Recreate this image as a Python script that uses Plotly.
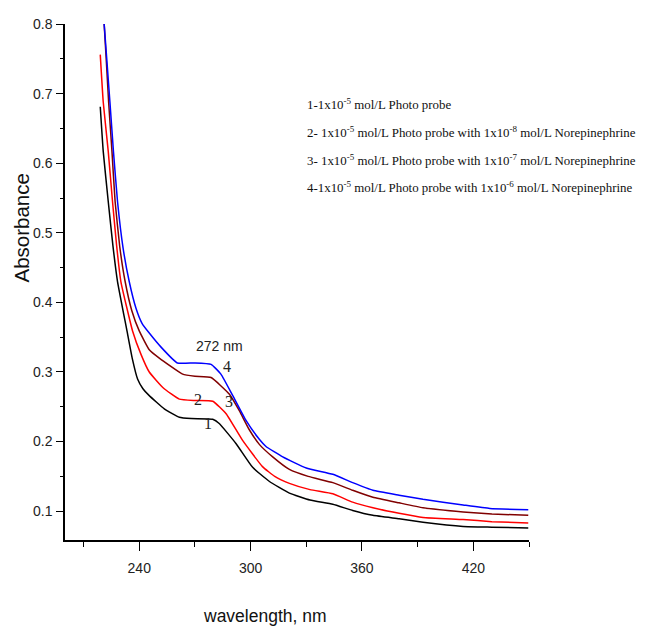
import plotly.graph_objects as go

# ---- data ----
wl_1 = [219, 220.6, 223.3, 225.8, 228.3, 233.4, 236.2, 239.1, 242, 245.4, 253.5, 261.6, 268, 279.6, 283.1,
        292.2, 301.1, 310, 320.9, 332, 344.3, 355, 365.9, 380, 392.9, 414.5, 430, 449.6]
abs_1 = [0.681, 0.617, 0.545, 0.482, 0.430, 0.359, 0.320, 0.290, 0.276, 0.266, 0.247, 0.235, 0.233, 0.232, 0.226,
         0.197, 0.163, 0.143, 0.126, 0.116, 0.110, 0.101, 0.094, 0.089, 0.084, 0.078, 0.077, 0.076]

wl_2 = [219, 220.6, 223.3, 225.6, 227.8, 230.1, 236.4, 241, 245.4, 253, 261.6, 270, 279.6, 286.8, 295.6,
        306.4, 313, 320.9, 332, 344.3, 355, 365.9, 380, 392.9, 414.5, 430, 449.6]
abs_2 = [0.756, 0.688, 0.617, 0.545, 0.482, 0.430, 0.359, 0.325, 0.300, 0.277, 0.261, 0.259, 0.258, 0.240, 0.202,
         0.164, 0.150, 0.140, 0.131, 0.125, 0.113, 0.105, 0.097, 0.091, 0.088, 0.085, 0.083]

wl_3 = [219, 221.1, 223.5, 225.3, 227, 229.5, 232.4, 236, 240, 245.4, 250.8, 263.4, 270, 278.7, 288.6, 294,
        299.3, 304.7, 311.9, 320.9, 331, 344.3, 355, 365.9, 380, 392.9, 414.5, 430, 449.6]
abs_3 = [0.86, 0.80, 0.688, 0.617, 0.545, 0.480, 0.430, 0.388, 0.359, 0.332, 0.320, 0.297, 0.294, 0.292, 0.268, 0.244,
         0.217, 0.196, 0.178, 0.160, 0.150, 0.141, 0.130, 0.120, 0.112, 0.105, 0.099, 0.096, 0.094]

wl_4 = [219, 221.1, 224.2, 226.1, 228.3, 231.3, 234.6, 238.2, 241.5, 245.4, 252, 260.5, 270, 278.7, 284, 290.4,
        297.6, 304.8, 308.3, 317.3, 330, 344.3, 355, 365.9, 380, 392.9, 414.5, 428.9, 449.6]
abs_4 = [0.87, 0.80, 0.688, 0.617, 0.545, 0.478, 0.430, 0.392, 0.370, 0.356, 0.335, 0.313, 0.313, 0.311, 0.297, 0.266,
         0.230, 0.203, 0.193, 0.178, 0.162, 0.153, 0.141, 0.130, 0.123, 0.117, 0.109, 0.104, 0.102]

series_names = ["1", "2", "3", "4"]
series_colors = ["#000000", "#ff0000", "#800000", "#0000ff"]

legend_lines = [
    "1-1x10<sup>-5</sup> mol/L Photo probe",
    "2- 1x10<sup>-5</sup> mol/L Photo probe with 1x10<sup>-8</sup> mol/L Norepinephrine",
    "3- 1x10<sup>-5</sup> mol/L Photo probe with 1x10<sup>-7</sup> mol/L Norepinephrine",
    "4-1x10<sup>-5</sup> mol/L Photo probe with 1x10<sup>-6</sup> mol/L Norepinephrine",
]

# curve labels (number, wavelength, absorbance)
curve_label_text = ["4", "2", "3", "1"]
curve_label_x = [287.2, 271.8, 288.3, 277.2]
curve_label_y = [0.3076, 0.261, 0.258, 0.226]
peak_text = "272 nm"
peak_x = 283.2
peak_y = 0.337

x_ticks = [240, 300, 360, 420]
y_ticks = [0.1, 0.2, 0.3, 0.4, 0.5, 0.6, 0.7, 0.8]

# page body has an 8px margin: figure is shifted, so compensate
OFF = 8
W, H = 652 - OFF, 627 - OFF
L, T, R, B = 65 - OFF, 24 - OFF, 123, 87
PW, PH = W - L - R, H - T - B


def px_x(px):
    return (px - OFF - L) / PW


def px_y(py):
    return 1 - (py - OFF - T) / PH


# ---- figure ----
fig = go.Figure()
for wl, ab, name, col in zip([wl_1, wl_2, wl_3, wl_4], [abs_1, abs_2, abs_3, abs_4],
                             series_names, series_colors):
    fig.add_trace(go.Scatter(x=wl, y=ab, mode="lines", name=name,
                             line=dict(color=col, width=1.5, shape="spline", smoothing=0.4)))

annotations = []
for t, x, y in zip(curve_label_text, curve_label_x, curve_label_y):
    annotations.append(dict(x=x, y=y, xref="x", yref="y", text=t, showarrow=False,
                            font=dict(family="Liberation Serif", size=16, color="#222222")))
annotations.append(dict(x=peak_x, y=peak_y, xref="x", yref="y", text=peak_text, showarrow=False,
                        font=dict(family="Liberation Sans", size=14, color="#222222")))

legend_y_px = [104, 132, 160, 187]
for txt, ypx in zip(legend_lines, legend_y_px):
    annotations.append(dict(x=px_x(305), y=px_y(ypx), xref="paper", yref="paper",
                            text=txt, showarrow=False, xanchor="left", yanchor="middle",
                            font=dict(family="Liberation Serif", size=12.9, color="#111111")))

annotations.append(dict(x=px_x(264.5), y=px_y(616), xref="paper", yref="paper",
                        text="wavelength, nm", showarrow=False, xanchor="center", yanchor="middle",
                        font=dict(family="Liberation Sans", size=17.5, color="#111111")))
annotations.append(dict(x=px_x(20.5), y=px_y(228), xref="paper", yref="paper",
                        text="Absorbance", showarrow=False, textangle=-90, xanchor="center",
                        yanchor="middle",
                        font=dict(family="Liberation Sans", size=20.5, color="#111111")))

fig.update_layout(
    width=W, height=H,
    margin=dict(l=L, r=R, t=T, b=B, autoexpand=False),
    paper_bgcolor="white", plot_bgcolor="white",
    showlegend=False,
    annotations=annotations,
    xaxis=dict(range=[200, 450], showgrid=False, zeroline=False,
               showline=True, linecolor="black", linewidth=1.5,
               ticks="outside", ticklen=9, tickwidth=1.3, tickcolor="black",
               tickvals=x_ticks, ticklabelstandoff=5,
               minor=dict(ticks="outside", ticklen=5, tickwidth=1.3, tickcolor="black",
                          dtick=30, tick0=210, showgrid=False),
               tickfont=dict(family="Liberation Sans", size=14, color="#222222")),
    yaxis=dict(range=[0.0586, 0.8], showgrid=False, zeroline=False,
               showline=True, linecolor="black", linewidth=1.5,
               ticks="outside", ticklen=7, tickwidth=1.3, tickcolor="black",
               tickvals=y_ticks, tickformat=".1f", ticklabelstandoff=1,
               minor=dict(ticks="outside", ticklen=3.5, tickwidth=1.3, tickcolor="black",
                          dtick=0.05, tick0=0.05, showgrid=False),
               tickfont=dict(family="Liberation Sans", size=14, color="#222222")),
)

fig.write_html("out.html")
